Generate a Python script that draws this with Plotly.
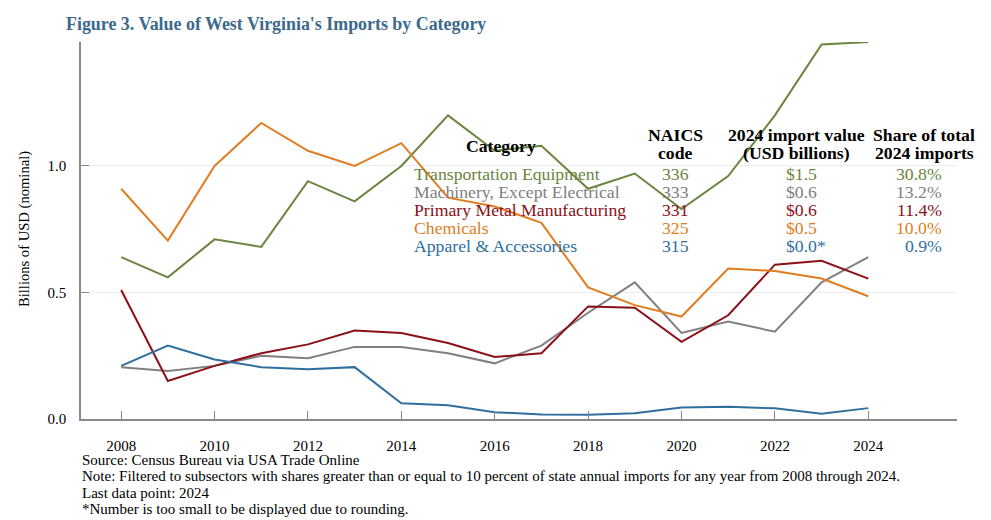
import plotly.graph_objects as go

# values (billions of USD, nominal)
years = [2008, 2009, 2010, 2011, 2012, 2013, 2014, 2015, 2016,
         2017, 2018, 2019, 2020, 2021, 2022, 2023, 2024]

transport = [0.64, 0.56, 0.71, 0.68, 0.94, 0.86, 1.00, 1.20, 1.06,
             1.08, 0.91, 0.97, 0.83, 0.96, 1.20, 1.48, 1.49]
machinery = [0.205, 0.19, 0.21, 0.25, 0.24, 0.285, 0.285, 0.26, 0.22,
             0.29, 0.42, 0.54, 0.34, 0.385, 0.345, 0.54, 0.64]
metal = [0.51, 0.15, 0.21, 0.26, 0.295, 0.35, 0.34, 0.30, 0.245,
         0.26, 0.445, 0.44, 0.305, 0.41, 0.61, 0.625, 0.555]
chemicals = [0.91, 0.705, 1.00, 1.17, 1.06, 1.00, 1.09, 0.875, 0.84,
             0.775, 0.52, 0.45, 0.405, 0.595, 0.585, 0.555, 0.485]
apparel = [0.21, 0.29, 0.235, 0.205, 0.197, 0.205, 0.062, 0.054, 0.027,
           0.018, 0.017, 0.023, 0.045, 0.048, 0.042, 0.021, 0.043]

categories = ["Transportation Equipment", "Machinery, Except Electrical",
              "Primary Metal Manufacturing", "Chemicals", "Apparel & Accessories"]
naics = ["336", "333", "331", "325", "315"]
value_2024 = ["$1.5", "$0.6", "$0.6", "$0.5", "$0.0*"]
share_2024 = ["30.8%", "13.2%", "11.4%", "10.0%", "0.9%"]
colors = ["#6b8540", "#808080", "#8b1018", "#e07d22", "#2f6f9e"]
series = [transport, machinery, metal, chemicals, apparel]

x_ticks = [2008, 2010, 2012, 2014, 2016, 2018, 2020, 2022, 2024]
y_ticks = [0.0, 0.5, 1.0]

footnotes = [
    "Source: Census Bureau via USA Trade Online",
    "Note: Filtered to subsectors with shares greater than or equal to 10 percent of state annual imports for any year from 2008 through 2024.",
    "Last data point: 2024",
    "*Number is too small to be displayed due to rounding.",
]

FONT = "Liberation Serif, Times New Roman, serif"
# the page puts the figure 8px in from the top-left corner
OFF = 8
W, H = 991 - OFF, 520 - OFF
# plot area on screen: x 81..957, y 42..419
L, R, T, B = 81 - OFF, (991 - OFF) - (957 - OFF), 42 - OFF, (520 - OFF) - (419 - OFF)


def px(x):
    return (x - OFF - L) / (W - L - R)


def py(y):
    return (H - B - (y - OFF)) / (H - T - B)


fig = go.Figure()
for name, vals, col in zip(categories, series, colors):
    fig.add_trace(go.Scatter(x=years, y=vals, mode="lines", name=name,
                             line=dict(color=col, width=2)))

ann = []


def text(s, x, y, anchor="left", size=17.7, color="black", bold=False):
    if bold:
        s = "<b>" + s + "</b>"
    ann.append(dict(text=s, x=px(x), y=py(y), xref="paper", yref="paper",
                    xanchor=anchor, yanchor="middle", showarrow=False,
                    font=dict(family=FONT, size=size, color=color)))


# title
text("Figure 3. Value of West Virginia's Imports by Category", 64, 24,
     size=17.9, color="#3b6a8c", bold=True)

# table headers
text("Category", 501, 146, anchor="center", bold=True)
text("NAICS", 675, 135, anchor="center", bold=True)
text("code", 675, 153, anchor="center", bold=True)
text("2024 import value", 796, 135, anchor="center", bold=True)
text("(USD billions)", 796, 153, anchor="center", bold=True)
text("Share of total", 924, 135, anchor="center", bold=True)
text("2024 imports", 924, 153, anchor="center", bold=True)

row_y = [174, 192, 210, 228, 246]
for i in range(len(categories)):
    text(categories[i], 412, row_y[i], color=colors[i])
    text(naics[i], 675, row_y[i], anchor="center", color=colors[i])
    text(value_2024[i], 784, row_y[i], color=colors[i])
    text(share_2024[i], 944, row_y[i], anchor="right", color=colors[i])

# y axis title
ann.append(dict(text="Billions of USD (nominal)", x=px(24), y=py(229),
                xref="paper", yref="paper", textangle=-90, showarrow=False,
                xanchor="center", yanchor="middle",
                font=dict(family=FONT, size=14.6, color="black")))

for i, s in enumerate(footnotes):
    text(s, 80, 460 + i * 16.3, size=15)

fig.update_layout(
    width=W, height=H,
    margin=dict(l=L, r=R, t=T, b=B),
    paper_bgcolor="white", plot_bgcolor="white",
    showlegend=False,
    font=dict(family=FONT, size=15, color="black"),
    annotations=ann,
)
fig.update_xaxes(range=[2007.14, 2025.9], tickvals=x_ticks,
                 showline=True, linecolor="#8a8a8a", linewidth=1.5,
                 ticks="inside", ticklen=8, tickcolor="#8a8a8a",
                 ticklabelstandoff=12, showgrid=False, zeroline=False)
fig.update_yaxes(range=[0, 1.49], tickvals=y_ticks, tickformat=".1f",
                 showline=True, linecolor="#8a8a8a", linewidth=1.5,
                 ticks="inside", ticklen=8, tickcolor="#8a8a8a",
                 ticklabelstandoff=10, showgrid=True, gridcolor="#ededed",
                 zeroline=False)

fig.write_html("out.html")
